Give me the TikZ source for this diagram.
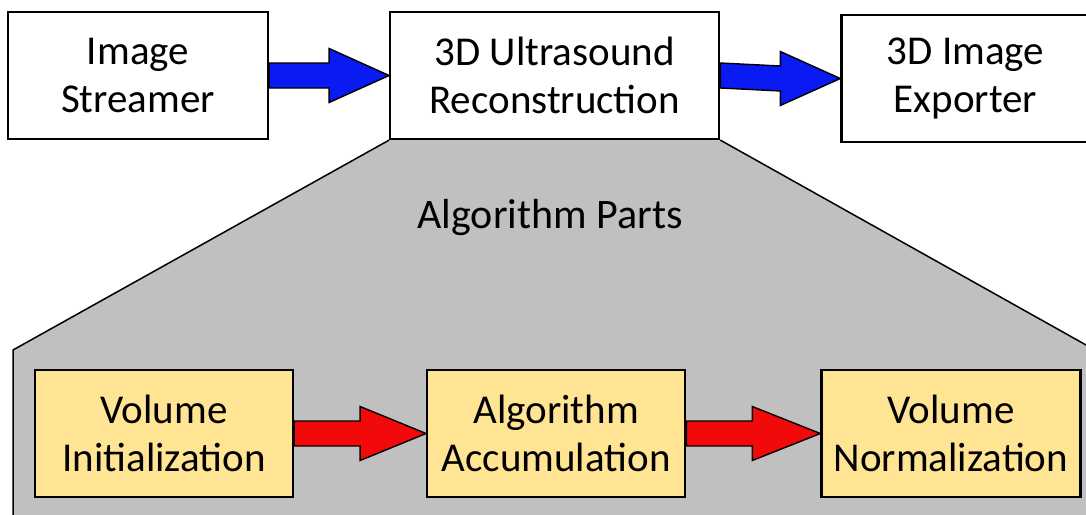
\documentclass[tikz,border=0pt]{standalone}
\usepackage{fontspec}
\setmainfont{Carlito}
\usetikzlibrary{positioning,backgrounds}
\definecolor{shaftblue}{HTML}{0A1AF2}
\definecolor{shaftred}{HTML}{F20A0A}
\definecolor{partfill}{HTML}{FFE593}
\definecolor{zoomgray}{HTML}{C0C0C0}
\begin{document}
\begin{tikzpicture}[x=1pt,y=-1pt,node distance=120pt,
 stage/.style={draw,line width=2.2pt,fill=white,minimum height=127pt,inner sep=0pt,
 align=center,font=\fontsize{41}{48}\selectfont},
 part/.style={stage,fill=partfill}]
\useasboundingbox (0,0) rectangle (1086,514);
\node[stage,minimum width=260pt] (stream) at (138,75.5) {Image\\Streamer};
\node[stage,minimum width=329pt,right=of stream] (recon) {3D Ultrasound\\Reconstruction};
\node[stage,minimum width=248pt,right=of recon,yshift=-3pt] (export) {3D Image\\Exporter};
\node[font=\fontsize{42}{48}\selectfont] (parts) at (550,218) {Algorithm Parts};
\node[part,minimum width=258pt] (init) at (164,433.5) {Volume\\Initialization};
\node[part,minimum width=258pt,right=132pt of init] (accum) {Algorithm\\Accumulation};
\node[part,minimum width=259pt,right=134pt of accum] (norm) {Volume\\Normalization};
\begin{scope}[on background layer]
\draw[fill=zoomgray,line width=1.5pt] (recon.south west) -- (13,350) -- (13,530) -- (1095,530)
 -- (1095,350) -- (recon.south east);
\end{scope}
\foreach \a/\b/\c/\h in {stream/recon/shaftblue/60,recon/export/shaftblue/60,init/accum/shaftred/66,accum/norm/shaftred/68}
 \draw[line width=1.4pt,fill=\c] ([yshift=12.5pt]\a.east) -- ([xshift=-\h pt,yshift=12.5pt]\b.west)
 -- ([xshift=-\h pt,yshift=27pt]\b.west) -- (\b.west) -- ([xshift=-\h pt,yshift=-27pt]\b.west)
 -- ([xshift=-\h pt,yshift=-12.5pt]\b.west) -- ([yshift=-12.5pt]\a.east) -- cycle;
\end{tikzpicture}
\end{document}
